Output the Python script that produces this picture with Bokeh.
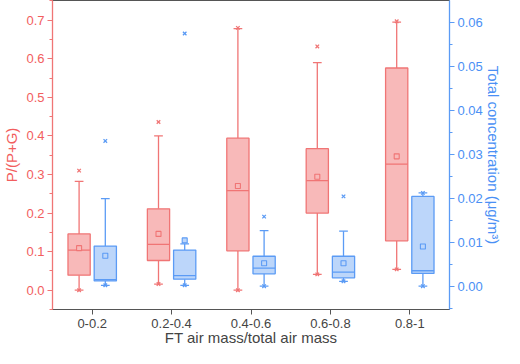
from bokeh.plotting import figure
from bokeh.models import (Range1d, LinearAxis, SingleIntervalTicker, FixedTicker,
                          PrintfTickFormatter, ColumnDataSource)
from bokeh.embed import file_html
from bokeh.resources import INLINE

# ---------------- data ----------------
cats = ["0-0.2", "0.2-0.4", "0.4-0.6", "0.6-0.8", "0.8-1"]

# P/(P+G)
r_q1 = [0.039, 0.077, 0.102, 0.200, 0.128]
r_med = [0.104, 0.119, 0.258, 0.284, 0.327]
r_q3 = [0.146, 0.211, 0.394, 0.367, 0.576]
r_mean = [0.109, 0.146, 0.270, 0.294, 0.347]
r_wlo = [0.0, 0.016, 0.0, 0.041, 0.054]
r_whi = [0.282, 0.400, 0.678, 0.590, 0.695]
r_min = [0.0, 0.016, 0.0, 0.041, 0.054]
r_max = [0.310, 0.436, 0.680, 0.632, 0.697]

# Total concentration (ug/m3)
c_q1 = [0.0012, 0.0016, 0.0028, 0.0019, 0.0029]
c_med = [0.0015, 0.0024, 0.0041, 0.0032, 0.0035]
c_q3 = [0.0091, 0.0082, 0.0068, 0.0068, 0.0204]
c_mean = [0.0069, 0.0104, 0.0052, 0.0052, 0.0090]
c_wlo = [0.0002, 0.0002, 0.0, 0.0011, 0.0]
c_whi = [0.0199, 0.0096, 0.0126, 0.0125, 0.0212]
c_min = [0.0002, 0.0002, 0.0, 0.0011, 0.0]
c_max = [0.0330, 0.0574, 0.0158, 0.0204, 0.0212]

# ---------------- style ----------------
FONT = "Liberation Sans"
RED_LINE = "#F07575"
RED_FILL = "#F8B9B9"
RED_TXT = "#F25E5E"
BLUE_LINE = "#5B9BF5"
BLUE_FILL = "#BCD6FA"
BLUE_TXT = "#4A90F5"
OFF = 0.165
BW = 0.28
CAP = 0.11

pos = list(range(1, len(cats) + 1))

p = figure(width=504, height=348, output_backend="svg", toolbar_location=None,
           x_range=Range1d(0.5, 5.5), y_range=Range1d(-0.05, 0.751),
           min_border_left=0, min_border_right=0, min_border_top=0,
           min_border_bottom=0)
p.extra_y_ranges = {"conc": Range1d(-0.0053, 0.0649)}
p.grid.visible = False
p.outline_line_color = "#555555"
p.outline_line_width = 1
p.background_fill_color = "white"
p.border_fill_color = "white"


def draw(q1, med, q3, mean, wlo, whi, mn, mx, off, line, fill, yname):
    xs = [x + off for x in pos]
    src = ColumnDataSource(dict(
        x=xs, left=[x - BW / 2 for x in xs], right=[x + BW / 2 for x in xs],
        cl=[x - CAP / 2 for x in xs], cr=[x + CAP / 2 for x in xs],
        q1=q1, med=med, q3=q3, mean=mean, wlo=wlo, whi=whi, mn=mn, mx=mx))
    kw = {} if yname is None else {"y_range_name": yname}
    p.segment(x0="x", y0="q3", x1="x", y1="whi", source=src, line_color=line, line_width=1.3, **kw)
    p.segment(x0="x", y0="wlo", x1="x", y1="q1", source=src, line_color=line, line_width=1.3, **kw)
    p.segment(x0="cl", y0="whi", x1="cr", y1="whi", source=src, line_color=line, line_width=1.3, **kw)
    p.segment(x0="cl", y0="wlo", x1="cr", y1="wlo", source=src, line_color=line, line_width=1.3, **kw)
    p.quad(left="left", right="right", bottom="q1", top="q3", source=src,
           fill_color=fill, line_color=line, line_width=1.3, **kw)
    p.segment(x0="left", y0="med", x1="right", y1="med", source=src, line_color=line, line_width=1.3, **kw)
    p.scatter(x="x", y="mean", source=src, marker="square", size=5, fill_color=fill,
              line_color=line, line_width=1.1, **kw)
    p.scatter(x="x", y="mx", source=src, marker="x", size=5, line_color=line, line_width=1.3, **kw)
    p.scatter(x="x", y="mn", source=src, marker="x", size=5, line_color=line, line_width=1.3, **kw)


draw(r_q1, r_med, r_q3, r_mean, r_wlo, r_whi, r_min, r_max, -OFF, RED_LINE, RED_FILL, None)
draw(c_q1, c_med, c_q3, c_mean, c_wlo, c_whi, c_min, c_max, OFF, BLUE_LINE, BLUE_FILL, "conc")

# x axis
xa = p.xaxis[0]
xa.ticker = FixedTicker(ticks=pos)
xa.major_label_overrides = {i: c for i, c in zip(pos, cats)}
xa.axis_label = "FT air mass/total air mass"
xa.axis_label_text_font = FONT
xa.axis_label_text_font_style = "normal"
xa.axis_label_text_font_size = "15px"
xa.axis_label_standoff = -2
xa.major_label_text_font = FONT
xa.major_label_text_font_size = "13px"
xa.major_tick_in = 0
xa.major_tick_out = 5
xa.minor_tick_line_color = None
xa.axis_line_color = "#555555"
xa.major_tick_line_color = "#555555"
xa.major_label_standoff = 4

# left axis
ya = p.yaxis[0]
ya.ticker = SingleIntervalTicker(interval=0.1, num_minor_ticks=2)
ya.formatter = PrintfTickFormatter(format="%.1f")
ya.axis_label = "P/(P+G)"

ra = LinearAxis(y_range_name="conc",
                ticker=SingleIntervalTicker(interval=0.01, num_minor_ticks=2),
                formatter=PrintfTickFormatter(format="%.2f"),
                axis_label="Total concentration (μg/m³)")
p.add_layout(ra, "right")

for ax, line, txt in ((ya, RED_LINE, RED_TXT), (ra, BLUE_LINE, BLUE_TXT)):
    ax.axis_line_color = line
    ax.axis_line_width = 1.3
    ax.major_tick_line_color = line
    ax.minor_tick_line_color = line
    ax.major_tick_in = 0
    ax.major_tick_out = 5
    ax.minor_tick_in = 0
    ax.minor_tick_out = 3
    ax.major_label_text_color = txt
    ax.major_label_text_font = FONT
    ax.major_label_text_font_size = "13px"
    ax.major_label_standoff = 3
    ax.axis_label_text_color = txt
    ax.axis_label_text_font = FONT
    ax.axis_label_text_font_style = "normal"
    ax.axis_label_text_font_size = "15px"
    ax.axis_label_standoff = 3
ra.axis_label_standoff = -1

open("out.html", "w").write(file_html(p, INLINE))
